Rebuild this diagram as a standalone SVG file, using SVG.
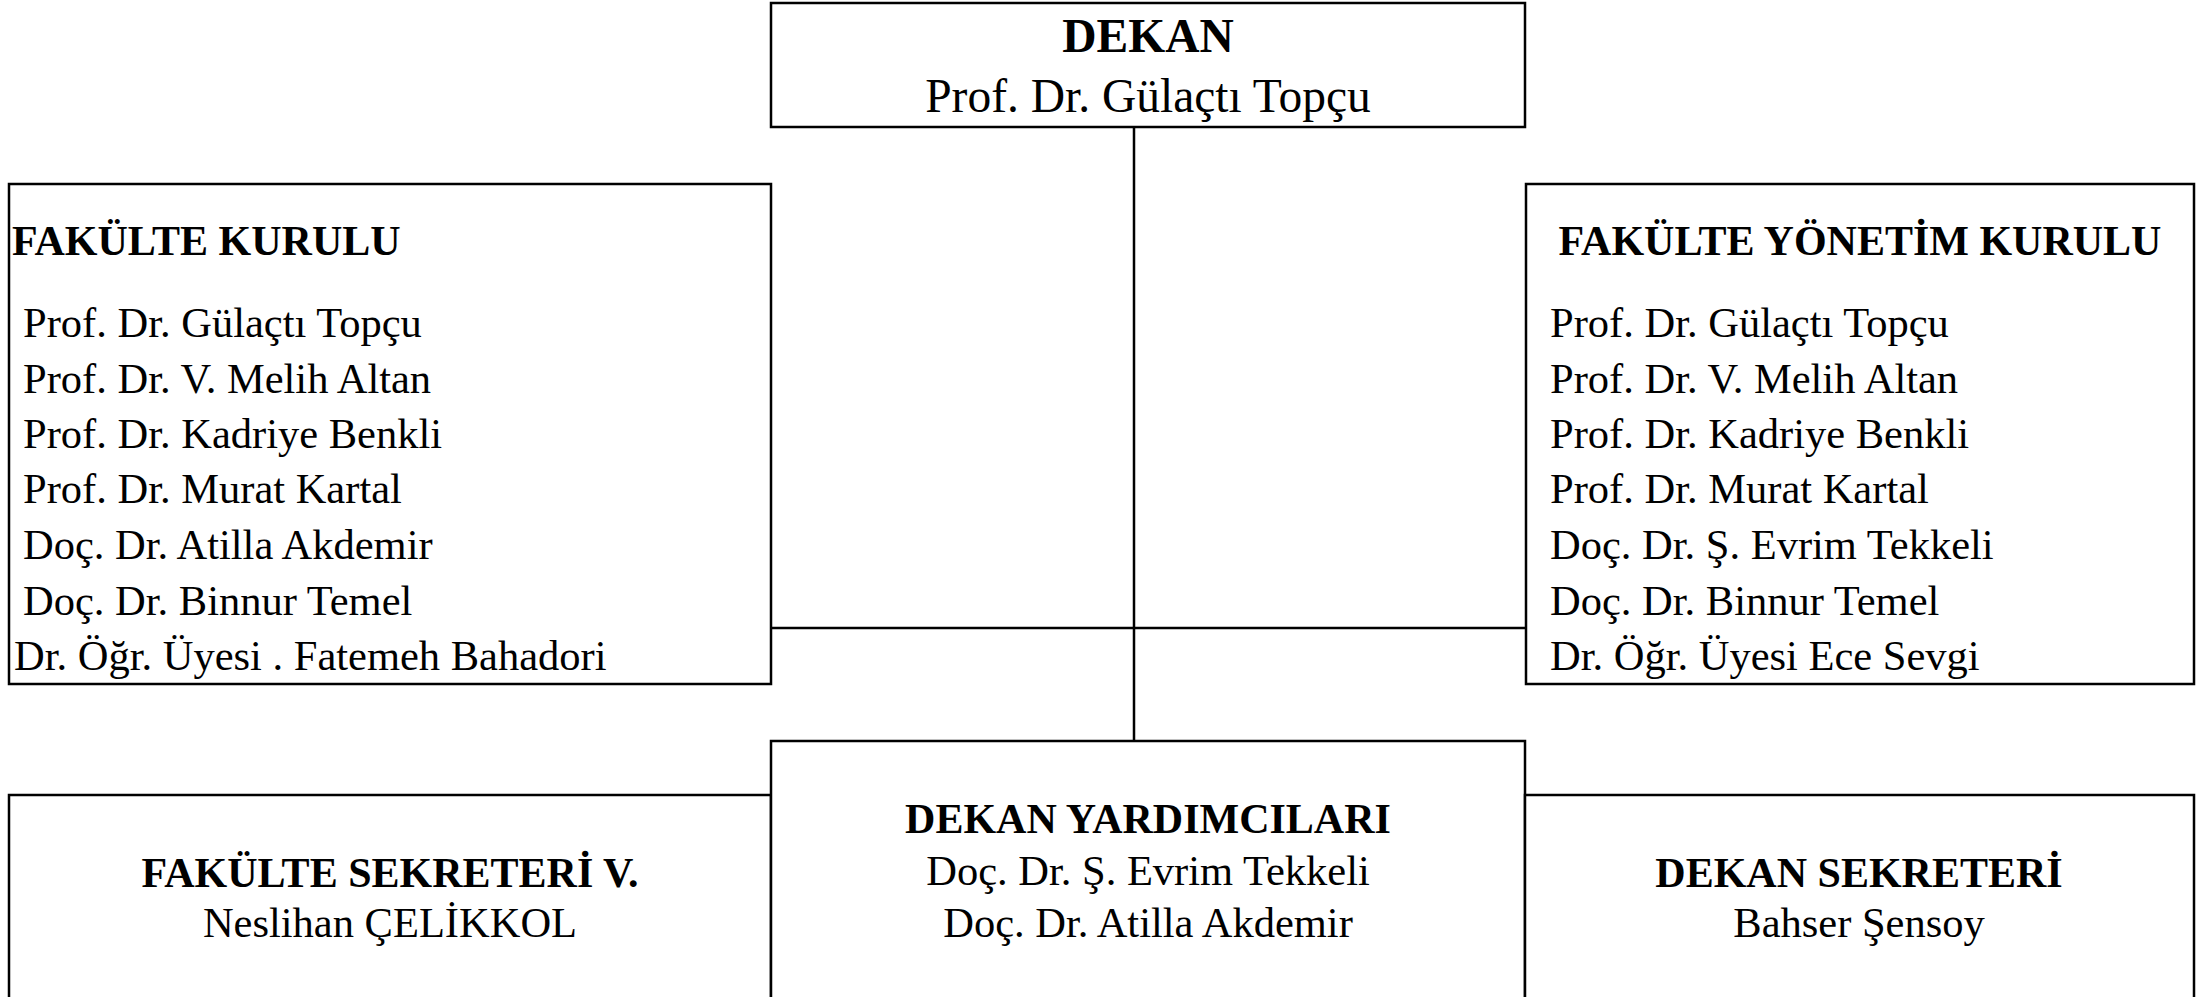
<svg xmlns="http://www.w3.org/2000/svg" width="2208" height="997" viewBox="0 0 2208 997">
<style>
.box{fill:#fff;stroke:#000;stroke-width:2.5}
.ln{stroke:#000;stroke-width:2.5;fill:none}
text{font-family:"Liberation Serif","Times New Roman",serif;fill:#000}
.h{font-weight:bold;font-size:42px}
.t{font-size:42.5px}
.big{font-size:47.5px}
.c{text-anchor:middle}
</style>
<rect width="2208" height="997" fill="#fff"/>
<g id="connectors">
<line class="ln" x1="1134" y1="127" x2="1134" y2="741"/>
<line class="ln" x1="771" y1="628" x2="1526" y2="628"/>
</g>
<g id="dekan">
<rect class="box" x="771" y="3" width="754" height="124"/>
<text class="big c" x="1148" y="52" font-weight="bold">DEKAN</text>
<text class="big c" x="1148" y="112">Prof. Dr. Gülaçtı Topçu</text>
</g>
<g id="fakulte-kurulu">
<rect class="box" x="9" y="184" width="762" height="500"/>
<text class="h" x="12" y="255">FAKÜLTE KURULU</text>
<text class="t" x="23" y="337">Prof. Dr. Gülaçtı Topçu</text>
<text class="t" x="23" y="393">Prof. Dr. V. Melih Altan</text>
<text class="t" x="23" y="448">Prof. Dr. Kadriye Benkli</text>
<text class="t" x="23" y="503">Prof. Dr. Murat Kartal</text>
<text class="t" x="23" y="559">Doç. Dr. Atilla Akdemir</text>
<text class="t" x="23" y="615">Doç. Dr. Binnur Temel</text>
<text class="t" x="14" y="670">Dr. Öğr. Üyesi . Fatemeh Bahadori</text>
</g>
<g id="fakulte-yonetim-kurulu">
<rect class="box" x="1526" y="184" width="668" height="500"/>
<text class="h c" x="1860" y="255">FAKÜLTE YÖNETİM KURULU</text>
<text class="t" x="1550" y="337">Prof. Dr. Gülaçtı Topçu</text>
<text class="t" x="1550" y="393">Prof. Dr. V. Melih Altan</text>
<text class="t" x="1550" y="448">Prof. Dr. Kadriye Benkli</text>
<text class="t" x="1550" y="503">Prof. Dr. Murat Kartal</text>
<text class="t" x="1550" y="559">Doç. Dr. Ş. Evrim Tekkeli</text>
<text class="t" x="1550" y="615">Doç. Dr. Binnur Temel</text>
<text class="t" x="1550" y="670">Dr. Öğr. Üyesi Ece Sevgi</text>
</g>
<g id="fakulte-sekreteri">
<rect class="box" x="9" y="795" width="762" height="230"/>
<text class="h c" x="390" y="887">FAKÜLTE SEKRETERİ V.</text>
<text class="t c" x="390" y="937">Neslihan ÇELİKKOL</text>
</g>
<g id="dekan-yardimcilari">
<rect class="box" x="771" y="741" width="754" height="280"/>
<text class="h c" x="1148" y="833">DEKAN YARDIMCILARI</text>
<text class="t c" x="1148" y="885">Doç. Dr. Ş. Evrim Tekkeli</text>
<text class="t c" x="1148" y="937">Doç. Dr. Atilla Akdemir</text>
</g>
<g id="dekan-sekreteri">
<rect class="box" x="1525" y="795" width="669" height="230"/>
<text class="h c" x="1859" y="887">DEKAN SEKRETERİ</text>
<text class="t c" x="1859" y="937">Bahser Şensoy</text>
</g>
</svg>
